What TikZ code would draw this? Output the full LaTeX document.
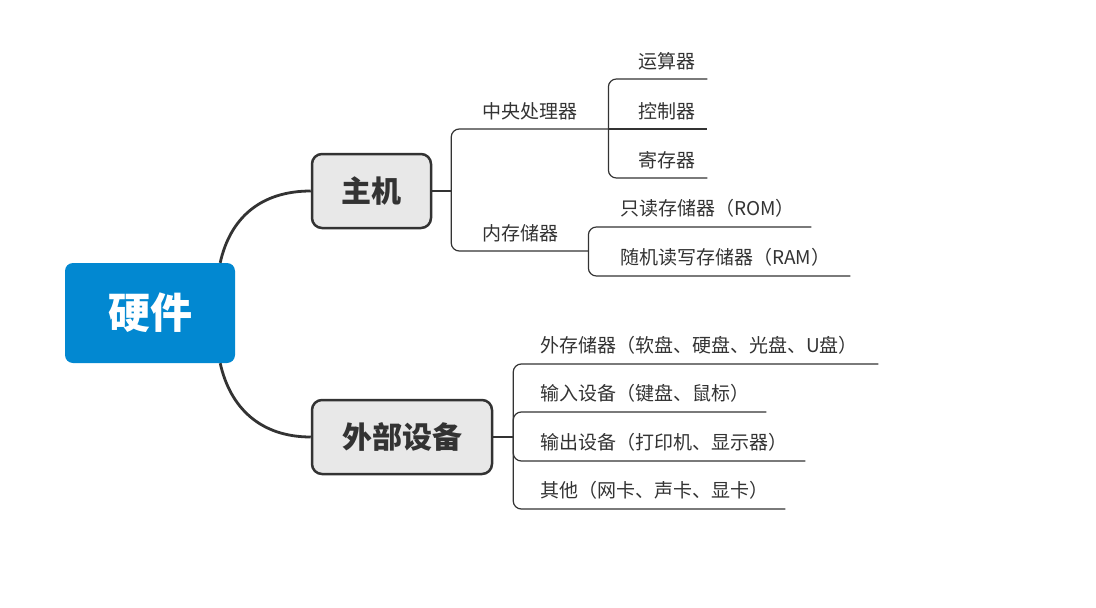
\documentclass[tikz,border=0pt]{standalone}
\usepackage{fontspec}
\newfontfamily\cjk{Noto Sans CJK SC}
\usetikzlibrary{positioning}
\definecolor{rootblue}{HTML}{0288D1}
\definecolor{topicgray}{HTML}{E8E8E8}
\definecolor{linegray}{HTML}{333333}
\tikzset{
  root/.style={fill=rootblue, rounded corners=8pt, minimum width=170pt, minimum height=100pt,
    text=white, font=\cjk\bfseries\fontsize{42}{50}\selectfont},
  topic/.style={draw=linegray, line width=2.5pt, fill=topicgray, rounded corners=10pt,
    minimum height=74pt, text=linegray, font=\cjk\bfseries\fontsize{30}{36}\selectfont},
  leaf/.style={anchor=south west, inner xsep=0pt, inner ysep=9pt, align=left,
    text=linegray, font=\cjk\fontsize{19}{23}\selectfont},
  mainlink/.style={draw=linegray, line width=2.8pt},
  sublink/.style={draw=linegray, line width=1.2pt, rounded corners=8pt}
}
\begin{document}
\begin{tikzpicture}[x=1pt, y=-1pt]
\useasboundingbox (0,0) rectangle (1096,608);

\node[root] (hw) at (150,313) {硬件};
\node[topic, minimum width=119pt] (host) at (371.5,191) {主机};
\node[topic, minimum width=180pt] (ext) at (402,437) {外部设备};

\draw[mainlink] ([xshift=-15pt]hw.north east) .. controls +(10,-45) and +(-50,0) .. (host.west);
\draw[mainlink] ([xshift=-15pt]hw.south east) .. controls +(10,45) and +(-50,0) .. (ext.west);

\coordinate (j1) at ([xshift=19pt]host.east);
\coordinate (j3) at ([xshift=20pt]ext.east);

\node[leaf, text width=126pt] (cpu) at (482,129) {中央处理器};
\node[leaf, text width=106pt] (mem) at (482,251) {内存储器};

\node[leaf, text width=69pt] (alu) at (638,79) {运算器};
\node[leaf, text width=69pt] (ctrl) at (638,129) {控制器};
\node[leaf, text width=69pt] (reg) at (638,178) {寄存器};

\node[leaf, text width=191pt] (rom) at (620,227) {只读存储器（ROM）};
\node[leaf, text width=230pt] (ram) at (620,276) {随机读写存储器（RAM）};

\node[leaf, text width=338pt] (disk) at (540,364) {外存储器（软盘、硬盘、光盘、U盘）};
\node[leaf, text width=226pt] (input) at (540,412) {输入设备（键盘、鼠标）};
\node[leaf, text width=265pt] (output) at (540,461) {输出设备（打印机、显示器）};
\node[leaf, text width=245pt] (other) at (540,509) {其他（网卡、声卡、显卡）};

\draw[sublink] (host.east) -- (j1);
\draw[sublink] (j1) |- (cpu.south east);
\draw[sublink] (j1) |- (mem.south east);
\draw[sublink] (cpu.south east) |- (alu.south east);
\draw[sublink] (cpu.south east) -- (ctrl.south east);
\draw[sublink] (cpu.south east) |- (reg.south east);
\draw[sublink] (mem.south east) |- (rom.south east);
\draw[sublink] (mem.south east) |- (ram.south east);

\draw[sublink] (ext.east) -- (j3);
\draw[sublink] (j3) |- (disk.south east);
\draw[sublink] (j3) |- (input.south east);
\draw[sublink] (j3) |- (output.south east);
\draw[sublink] (j3) |- (other.south east);
\end{tikzpicture}
\end{document}
